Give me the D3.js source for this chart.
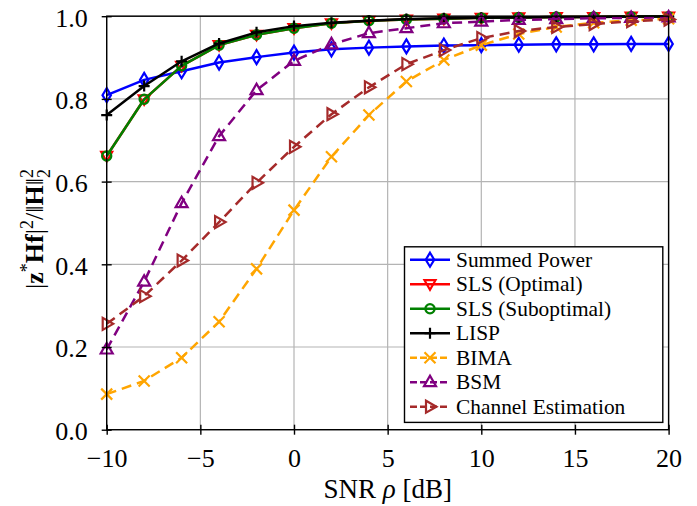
<!DOCTYPE html>
<html><head><meta charset="utf-8">
<script src="https://cdn.jsdelivr.net/npm/d3@7"></script>
<style>body{margin:0;background:#fff}svg{display:block}text{font-family:"Liberation Serif","Times New Roman",serif}</style>
</head><body><svg id="c" width="697" height="506"></svg>
<script>
const snr = [-10,-8,-6,-4,-2,0,2,4,6,8,10,12,14,16,18,20];
const summedPower = [0.809,0.846,0.867,0.888,0.901,0.912,0.920,0.924,0.927,0.929,0.930,0.931,0.932,0.932,0.933,0.933];
const slsOptimal = [0.662,0.799,0.880,0.930,0.955,0.971,0.983,0.989,0.992,0.994,0.996,0.997,0.998,0.998,0.999,0.999];
const slsSuboptimal = [0.662,0.799,0.880,0.930,0.955,0.971,0.983,0.989,0.992,0.994,0.996,0.997,0.998,0.998,0.999,0.999];
const lisp = [0.761,0.831,0.891,0.934,0.961,0.976,0.984,0.989,0.993,0.995,0.996,0.997,0.998,0.998,0.999,0.999];
const bima = [0.086,0.118,0.174,0.261,0.389,0.531,0.660,0.761,0.842,0.894,0.930,0.957,0.974,0.984,0.990,0.994];
const bsm = [0.194,0.358,0.548,0.710,0.821,0.892,0.932,0.959,0.971,0.983,0.987,0.991,0.993,0.995,0.996,0.997];
const channelEst = [0.256,0.323,0.409,0.502,0.597,0.684,0.763,0.828,0.884,0.918,0.947,0.964,0.974,0.981,0.988,0.992];
const xTicks = [-10,-5,0,5,10,15,20];
const yTicks = [0,0.2,0.4,0.6,0.8,1.0];
const seriesNames = ["Summed Power","SLS (Optimal)","SLS (Suboptimal)","LISP","BIMA","BSM","Channel Estimation"];

const series = [
  {name:seriesNames[0], values:summedPower, color:"#0000ff", mark:"diamond", dash:null},
  {name:seriesNames[1], values:slsOptimal, color:"#ff0000", mark:"tridown", dash:null},
  {name:seriesNames[2], values:slsSuboptimal, color:"#008000", mark:"circle", dash:null},
  {name:seriesNames[3], values:lisp, color:"#000000", mark:"plus", dash:null},
  {name:seriesNames[4], values:bima, color:"#ffa500", mark:"x", dash:"10,6"},
  {name:seriesNames[5], values:bsm, color:"#800080", mark:"triup", dash:"10,6"},
  {name:seriesNames[6], values:channelEst, color:"#a52a2a", mark:"triright", dash:"10,6"}
];

const svg = d3.select("#c");
const L=106.7, R=668.6, T=16.2, B=429.7;
const x = d3.scaleLinear().domain([-10,20]).range([L,R]);
const y = d3.scaleLinear().domain([0,1]).range([B,T]);

// grid
const g = svg.append("g");
g.selectAll(".gx").data(xTicks).join("line").attr("x1",d=>x(d)).attr("x2",d=>x(d)).attr("y1",T).attr("y2",B).attr("stroke","#b4b4b4").attr("stroke-width",1.2);
g.selectAll(".gy").data(yTicks).join("line").attr("y1",d=>y(d)).attr("y2",d=>y(d)).attr("x1",L).attr("x2",R).attr("stroke","#b4b4b4").attr("stroke-width",1.2);

function markPath(type){
  switch(type){
    case "diamond": return "M0,-7L4.2,0L0,7L-4.2,0Z";
    case "tridown": return "M-5.5,-4L5.5,-4L0,5.5Z";
    case "triup": return "M-6,4L6,4L0,-6.5Z";
    case "triright": return "M-4,-6L-4,6L6.5,0Z";
    case "plus": return "M-5.5,0L5.5,0M0,-5.5L0,5.5";
    case "x": return "M-5.5,-5.5L5.5,5.5M-5.5,5.5L5.5,-5.5";
    case "circle": return "M4.6,0A4.6,4.6,0,1,1,-4.6,0A4.6,4.6,0,1,1,4.6,0Z";
  }
}

const plot = svg.append("g");
const line = d3.line().x((d,i)=>x(snr[i])).y(d=>y(d));
series.forEach(s=>{
  const gs = plot.append("g");
  gs.append("path").attr("d",line(s.values)).attr("fill","none").attr("stroke",s.color).attr("stroke-width",2.5).attr("stroke-dasharray",s.dash).attr("stroke-linejoin","round");
  gs.selectAll("path.m").data(s.values).join("path").attr("class","m")
    .attr("transform",(d,i)=>`translate(${x(snr[i])},${y(d)})`)
    .attr("d",markPath(s.mark)).attr("fill","none").attr("stroke",s.color).attr("stroke-width",2.2);
});

// axes frame
svg.append("rect").attr("x",L).attr("y",T).attr("width",R-L).attr("height",B-T).attr("fill","none").attr("stroke","#000").attr("stroke-width",1.4);

const xAxis = d3.axisBottom(x).tickValues(xTicks).tickSize(0).tickPadding(0).tickFormat(d=>d<0?"\u2212"+Math.abs(d):String(d));
const xa = svg.append("g").attr("transform",`translate(0,${B})`).call(xAxis);
xa.select(".domain").remove();
xa.selectAll(".tick line").remove();
xa.selectAll(".tick").append("line").attr("y1",-5).attr("y2",5).attr("stroke","#000").attr("stroke-width",1.4);
xa.selectAll("text").attr("font-size",26).attr("fill","#000").attr("font-family","Liberation Serif").attr("y",37).attr("dy",null);

const yAxis = d3.axisLeft(y).tickValues(yTicks).tickSize(0).tickPadding(0).tickFormat(d3.format(".1f"));
const ya = svg.append("g").attr("transform",`translate(${L},0)`).call(yAxis);
ya.select(".domain").remove();
ya.selectAll(".tick line").remove();
ya.selectAll(".tick").append("line").attr("x1",-5).attr("x2",5).attr("stroke","#000").attr("stroke-width",1.4);
ya.selectAll("text").attr("font-size",26).attr("fill","#000").attr("font-family","Liberation Serif").attr("x",-19).attr("dy","0.38em");

// x label
const xl = svg.append("text").attr("x",(L+R)/2).attr("y",498).attr("text-anchor","middle").attr("font-size",27);
xl.append("tspan").text("SNR ");
xl.append("tspan").attr("font-style","italic").text("\u03c1");
xl.append("tspan").text(" [dB]");

// y label
const yl = svg.append("text").attr("transform",`translate(43,${(T+B)/2+6}) rotate(-90)`).attr("text-anchor","middle").attr("font-size",26);
yl.append("tspan").text("|");
yl.append("tspan").attr("font-weight","bold").text("z");
yl.append("tspan").attr("font-size",18).attr("dy",-10).text("*");
yl.append("tspan").attr("font-weight","bold").attr("dy",10).text("Hf");
yl.append("tspan").text("|");
yl.append("tspan").attr("font-size",18).attr("dy",-10).text("2");
yl.append("tspan").attr("dy",10).text("/\u2016");
yl.append("tspan").attr("font-weight","bold").text("H");
yl.append("tspan").text("\u2016");
yl.append("tspan").attr("font-size",18).attr("dy",-10).text("2");
yl.append("tspan").attr("font-size",18).attr("dx",-9).attr("dy",17).text("2");

// legend
const lx=404.5, ly=246.8, lw=258.3, lh=175.6;
const lg = svg.append("g");
lg.append("rect").attr("x",lx).attr("y",ly).attr("width",lw).attr("height",lh).attr("fill","#fff").attr("stroke","#000").attr("stroke-width",1.4);
series.forEach((s,i)=>{
  const cy = 259.7 + i*24.5;
  lg.append("line").attr("x1",410).attr("x2",450).attr("y1",cy).attr("y2",cy).attr("stroke",s.color).attr("stroke-width",2.5).attr("stroke-dasharray",s.dash?"7,3":null);
  lg.append("path").attr("transform",`translate(430,${cy})`).attr("d",markPath(s.mark)).attr("fill","none").attr("stroke",s.color).attr("stroke-width",2.2);
  lg.append("text").attr("x",456).attr("y",cy+7).attr("font-size",21.4).text(s.name);
});
</script></body></html>
